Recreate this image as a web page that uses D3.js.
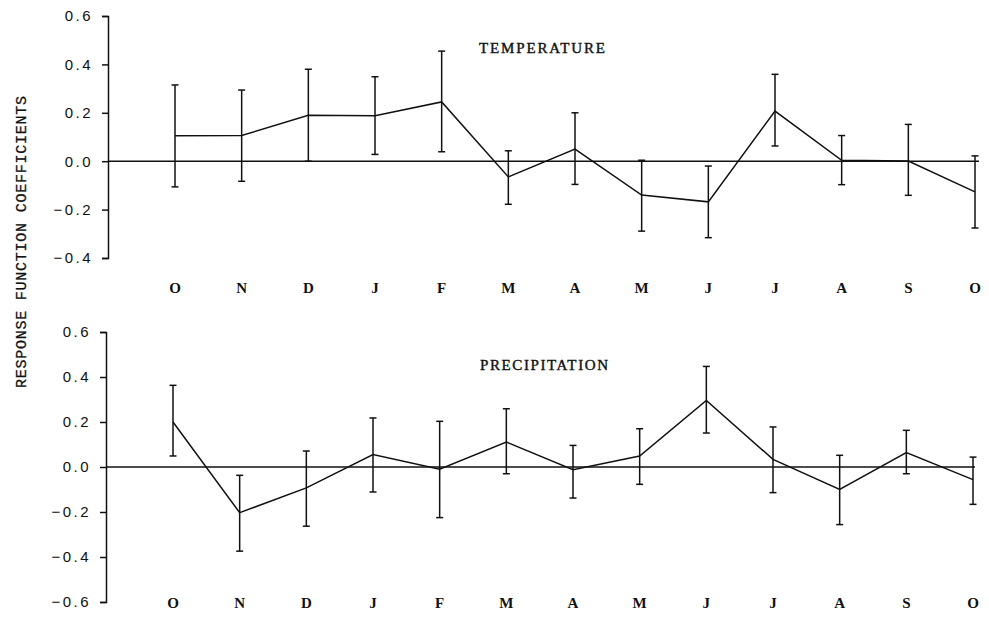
<!DOCTYPE html>
<html>
<head>
<meta charset="utf-8">
<script src="https://cdn.jsdelivr.net/npm/d3@7"></script>
<style>
  body { margin: 0; background: #fff; }
  svg { display: block; }
</style>
</head>
<body>
<div id="chart"></div>
<script>
// month labels (Oct of previous year to Oct of current year)
var months = ["O", "N", "D", "J", "F", "M", "A", "M", "J", "J", "A", "S", "O"];

// temperature response coefficients and error bar limits
var tempValues = [0.105, 0.106, 0.19, 0.188, 0.245, -0.065, 0.05, -0.14, -0.168, 0.207, 0.004, 0.001, -0.127];
var tempUpper  = [0.315, 0.294, 0.38, 0.349, 0.455, 0.043, 0.20, 0.004, -0.02, 0.359, 0.106, 0.152, 0.022];
var tempLower  = [-0.106, -0.083, 0.0, 0.028, 0.039, -0.178, -0.096, -0.289, -0.316, 0.063, -0.097, -0.141, -0.276];

// precipitation response coefficients and error bar limits
var precValues = [0.20, -0.203, -0.093, 0.055, -0.01, 0.111, -0.012, 0.049, 0.296, 0.034, -0.10, 0.064, -0.056];
var precUpper  = [0.363, -0.037, 0.071, 0.218, 0.203, 0.259, 0.096, 0.17, 0.447, 0.178, 0.052, 0.163, 0.044];
var precLower  = [0.049, -0.374, -0.263, -0.111, -0.225, -0.03, -0.138, -0.077, 0.151, -0.114, -0.256, -0.03, -0.166];

var tempTicks = [-0.4, -0.2, 0.0, 0.2, 0.4, 0.6];
var precTicks = [-0.6, -0.4, -0.2, 0.0, 0.2, 0.4, 0.6];

const width = 989, height = 617;

const svg = d3.select("#chart").append("svg")
   .attr("width", width)
   .attr("height", height);

const fmt = d3.format(".1f");

function drawPanel(cfg) {
   const x = d3.scaleLinear()
      .domain([0, months.length - 1])
      .range([cfg.x0, cfg.x1]);

   const y = d3.scaleLinear()
      .domain(d3.extent(cfg.ticks))
      .range([cfg.yBottom, cfg.yTop]);

   const g = svg.append("g");

   // y axis
   const axis = d3.axisLeft(y)
      .tickValues(cfg.ticks)
      .tickSize(6)
      .tickSizeOuter(6)
      .tickPadding(9)
      .tickFormat(fmt);

   const ax = g.append("g")
      .attr("transform", "translate(" + cfg.axisX + ",0)")
      .call(axis);

   ax.select(".domain").attr("stroke", "#111").attr("stroke-width", 1.5);
   ax.selectAll(".tick line").attr("stroke", "#111").attr("stroke-width", 1.5);
   ax.selectAll(".tick text")
      .attr("fill", "#111")
      .style("font-family", "'Liberation Sans', Arial, sans-serif")
      .style("font-size", "15px")
      .style("letter-spacing", "2.5px");

   // zero line
   g.append("line")
      .attr("x1", cfg.axisX)
      .attr("x2", cfg.zeroEnd)
      .attr("y1", y(0))
      .attr("y2", y(0))
      .attr("stroke", "#111")
      .attr("stroke-width", 1.5);

   // error bars
   const bars = g.selectAll(".err")
      .data(cfg.values.map((v, i) => ({ i: i, lo: cfg.lower[i], hi: cfg.upper[i] })))
      .join("g")
      .attr("class", "err");

   bars.append("line")
      .attr("x1", d => x(d.i)).attr("x2", d => x(d.i))
      .attr("y1", d => y(d.lo)).attr("y2", d => y(d.hi))
      .attr("stroke", "#111").attr("stroke-width", 1.5);

   bars.append("line")
      .attr("x1", d => x(d.i) - 3.5).attr("x2", d => x(d.i) + 3.5)
      .attr("y1", d => y(d.hi)).attr("y2", d => y(d.hi))
      .attr("stroke", "#111").attr("stroke-width", 1.5);

   bars.append("line")
      .attr("x1", d => x(d.i) - 3.5).attr("x2", d => x(d.i) + 3.5)
      .attr("y1", d => y(d.lo)).attr("y2", d => y(d.lo))
      .attr("stroke", "#111").attr("stroke-width", 1.5);

   // coefficient line
   const line = d3.line()
      .x((d, i) => x(i))
      .y(d => y(d));

   g.append("path")
      .datum(cfg.values)
      .attr("d", line)
      .attr("fill", "none")
      .attr("stroke", "#111")
      .attr("stroke-width", 1.5);

   // month labels
   g.selectAll(".month")
      .data(months)
      .join("text")
      .attr("class", "month")
      .attr("x", (d, i) => x(i))
      .attr("y", cfg.labelY)
      .attr("text-anchor", "middle")
      .attr("fill", "#111")
      .style("font-family", "'Liberation Serif', 'Times New Roman', serif")
      .style("font-size", "15px")
      .style("font-weight", "bold")
      .text(d => d);

   // panel title
   g.append("text")
      .attr("x", cfg.titleX)
      .attr("y", cfg.titleY)
      .attr("textLength", cfg.titleLen)
      .attr("lengthAdjust", "spacing")
      .attr("fill", "#111")
      .attr("stroke", "#111")
      .attr("stroke-width", 0.4)
      .style("font-family", "'Liberation Serif', 'Times New Roman', serif")
      .style("font-size", "15px")
      .text(cfg.title);
}

drawPanel({
   title: "TEMPERATURE", titleX: 479, titleY: 53, titleLen: 126,
   values: tempValues, upper: tempUpper, lower: tempLower, ticks: tempTicks,
   x0: 175, x1: 975, axisX: 108, yTop: 16, yBottom: 258, zeroEnd: 979, labelY: 293
});

drawPanel({
   title: "PRECIPITATION", titleX: 480, titleY: 370, titleLen: 128,
   values: precValues, upper: precUpper, lower: precLower, ticks: precTicks,
   x0: 173, x1: 973, axisX: 106, yTop: 332, yBottom: 602, zeroEnd: 975, labelY: 608
});

// shared y axis title
svg.append("text")
   .attr("transform", "translate(26,242) rotate(-90)")
   .attr("text-anchor", "middle")
   .attr("textLength", 292)
   .attr("lengthAdjust", "spacing")
   .attr("fill", "#111")
   .attr("stroke", "#111")
   .attr("stroke-width", 0.3)
   .style("font-family", "'Liberation Mono', 'Courier New', monospace")
   .style("font-size", "15px")
   .text("RESPONSE FUNCTION COEFFICIENTS");
</script>
</body>
</html>
